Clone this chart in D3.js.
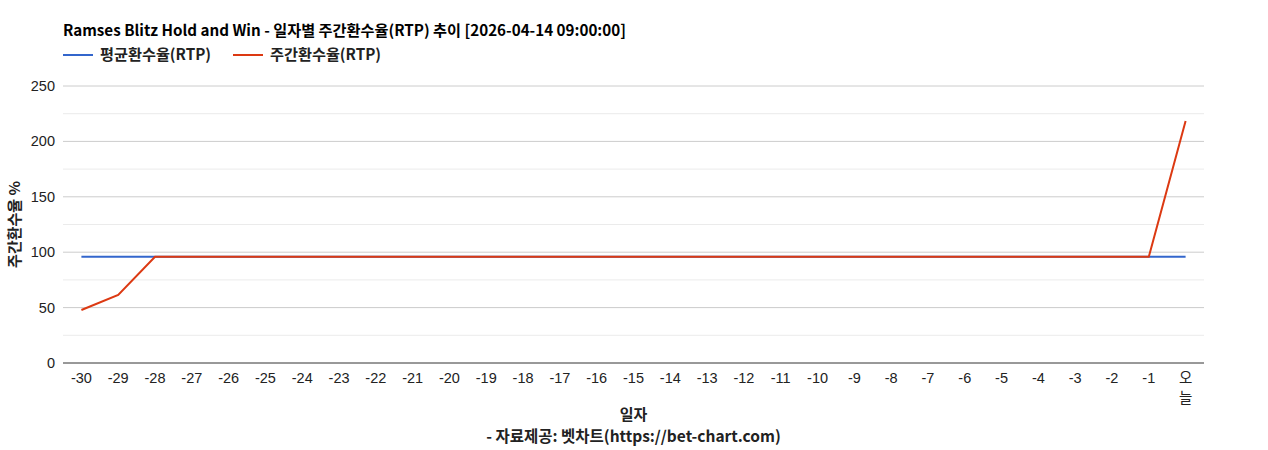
<!DOCTYPE html>
<html>
<head>
<meta charset="utf-8">
<script src="https://cdn.jsdelivr.net/npm/d3@7"></script>
<style>
  body { margin: 0; background: #fff; }
  text { font-family: "Liberation Sans", Arial, "Noto Sans CJK KR", sans-serif; }
  .kr { font-family: "Noto Sans CJK KR", "Liberation Sans", sans-serif; }
</style>
</head>
<body>
<div id="chart"></div>
<script>
// x 카테고리: -30 ... -1, 오늘
const days = d3.range(-30, 0).map(String).concat(["오늘"]);
const avgRtp = days.map(() => 95.8);
const weeklyRtp = [47.8, 61.4].concat(d3.range(28).map(() => 95.8), [218.4]);
const yTicks = [0, 50, 100, 150, 200, 250];
const seriesNames = ["평균환수율(RTP)", "주간환수율(RTP)"];
const seriesColors = ["#3366cc", "#dc3912"];

const width = 1268, height = 450;
const margin = { left: 63, right: 64, top: 86, bottom: 87 };

const svg = d3.select("#chart").append("svg")
    .attr("width", width)
    .attr("height", height);

const x = d3.scalePoint()
    .domain(days)
    .range([margin.left, width - margin.right])
    .padding(0.5);

const y = d3.scaleLinear()
    .domain([0, 250])
    .range([height - margin.bottom, margin.top]);

// 보조 그리드
svg.append("g")
    .selectAll("line")
    .data(d3.range(25, 250, 50))
    .enter()
    .append("line")
    .attr("x1", margin.left)
    .attr("x2", width - margin.right)
    .attr("y1", d => y(d))
    .attr("y2", d => y(d))
    .attr("stroke", "#ebebeb");

// 주 그리드
svg.append("g")
    .selectAll("line")
    .data(yTicks.slice(1))
    .enter()
    .append("line")
    .attr("x1", margin.left)
    .attr("x2", width - margin.right)
    .attr("y1", d => y(d))
    .attr("y2", d => y(d))
    .attr("stroke", "#cccccc");

// y 축 라벨
svg.append("g")
    .selectAll("text")
    .data(yTicks)
    .enter()
    .append("text")
    .attr("x", margin.left - 8)
    .attr("y", d => y(d) + 5)
    .attr("text-anchor", "end")
    .attr("font-size", 14.5)
    .attr("fill", "#222")
    .text(d => d);

// 기준선
svg.append("line")
    .attr("x1", margin.left)
    .attr("x2", width - margin.right)
    .attr("y1", y(0))
    .attr("y2", y(0))
    .attr("stroke", "#333");

// x 축 라벨 (오늘은 두 줄)
svg.append("g")
    .selectAll("text")
    .data(days)
    .enter()
    .append("text")
    .attr("x", d => x(d))
    .attr("y", y(0) + 20)
    .attr("text-anchor", "middle")
    .attr("font-size", 14.5)
    .attr("fill", "#222")
    .text(d => d === "오늘" ? "오" : d);

svg.append("text")
    .attr("class", "kr")
    .attr("x", x("오늘"))
    .attr("y", y(0) + 40)
    .attr("text-anchor", "middle")
    .attr("font-size", 14.5)
    .attr("fill", "#222")
    .text("늘");

// 선
const line = d3.line()
    .x((d, i) => x(days[i]))
    .y(d => y(d));

[avgRtp, weeklyRtp].forEach((s, i) => {
    svg.append("path")
        .datum(s)
        .attr("fill", "none")
        .attr("stroke", seriesColors[i])
        .attr("stroke-width", 2)
        .attr("d", line);
});

// 제목
svg.append("text")
    .attr("class", "kr")
    .attr("x", margin.left)
    .attr("y", 36)
    .attr("font-size", 15.2)
    .attr("font-weight", "bold")
    .attr("fill", "#000")
    .text("Ramses Blitz Hold and Win - 일자별 주간환수율(RTP) 추이 [2026-04-14 09:00:00]");

// 범례
const legendX = [63, 233];
seriesNames.forEach((name, i) => {
    const g = svg.append("g");
    g.append("line")
        .attr("x1", legendX[i])
        .attr("x2", legendX[i] + 30)
        .attr("y1", 55)
        .attr("y2", 55)
        .attr("stroke", seriesColors[i])
        .attr("stroke-width", 2);
    g.append("text")
        .attr("class", "kr")
        .attr("x", legendX[i] + 37)
        .attr("y", 60)
        .attr("font-size", 15.2)
        .attr("font-weight", "bold")
        .attr("fill", "#222")
        .text(name);
});

// 축 제목
svg.append("text")
    .attr("class", "kr")
    .attr("transform", `translate(20,${(y(0) + y(250)) / 2}) rotate(-90)`)
    .attr("text-anchor", "middle")
    .attr("font-size", 15)
    .attr("font-weight", "bold")
    .attr("fill", "#222")
    .text("주간환수율 %");

svg.append("text")
    .attr("class", "kr")
    .attr("x", (margin.left + width - margin.right) / 2)
    .attr("y", 420)
    .attr("text-anchor", "middle")
    .attr("font-size", 15)
    .attr("font-weight", "bold")
    .attr("fill", "#222")
    .text("일자");

svg.append("text")
    .attr("class", "kr")
    .attr("x", (margin.left + width - margin.right) / 2)
    .attr("y", 442)
    .attr("text-anchor", "middle")
    .attr("font-size", 15.5)
    .attr("font-weight", "bold")
    .attr("fill", "#222")
    .text("- 자료제공: 벳차트(https://bet-chart.com)");
</script>
</body>
</html>
